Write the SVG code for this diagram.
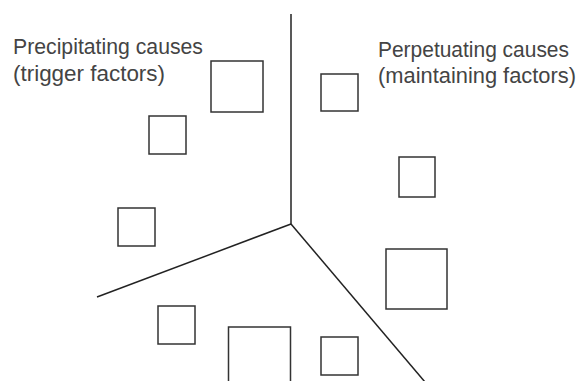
<svg xmlns="http://www.w3.org/2000/svg" width="580" height="381" viewBox="0 0 580 381">
<style>
.t{font-family:"Liberation Sans",Arial,sans-serif;font-size:21.5px;fill:#444;}
.b{fill:#fff;stroke:#333;stroke-width:1.5;}
.c{fill:none;stroke:#222;stroke-width:1.5;}
</style>
<rect width="580" height="381" fill="#fff"/>
<g id="connectors">
<line class="c" x1="291" y1="14" x2="291" y2="224"/>
<line class="c" x1="291" y1="224" x2="97" y2="297"/>
<line class="c" x1="291" y1="224" x2="425" y2="382"/>
</g>
<g id="label-precipitating">
<text class="t" x="13" y="54" textLength="190" lengthAdjust="spacingAndGlyphs">Precipitating causes</text>
<text class="t" x="13" y="81" textLength="152" lengthAdjust="spacingAndGlyphs">(trigger factors)</text>
</g>
<g id="label-perpetuating">
<text class="t" x="378" y="57" textLength="191" lengthAdjust="spacingAndGlyphs">Perpetuating causes</text>
<text class="t" x="378" y="83" textLength="198" lengthAdjust="spacingAndGlyphs">(maintaining factors)</text>
</g>
<g id="box1"><rect class="b" x="211" y="61" width="52" height="51"/></g>
<g id="box2"><rect class="b" x="149" y="116" width="37" height="38"/></g>
<g id="box3"><rect class="b" x="118" y="208" width="37" height="38"/></g>
<g id="box4"><rect class="b" x="158" y="306" width="37" height="38"/></g>
<g id="box5"><path class="b" d="M228.5 382 V327 H290.5 V382"/></g>
<g id="box6"><rect class="b" x="321" y="74" width="37" height="37"/></g>
<g id="box7"><rect class="b" x="399" y="157" width="36" height="40"/></g>
<g id="box8"><rect class="b" x="386" y="249" width="61" height="60"/></g>
<g id="box9"><rect class="b" x="321" y="337" width="37" height="38"/></g>
</svg>
